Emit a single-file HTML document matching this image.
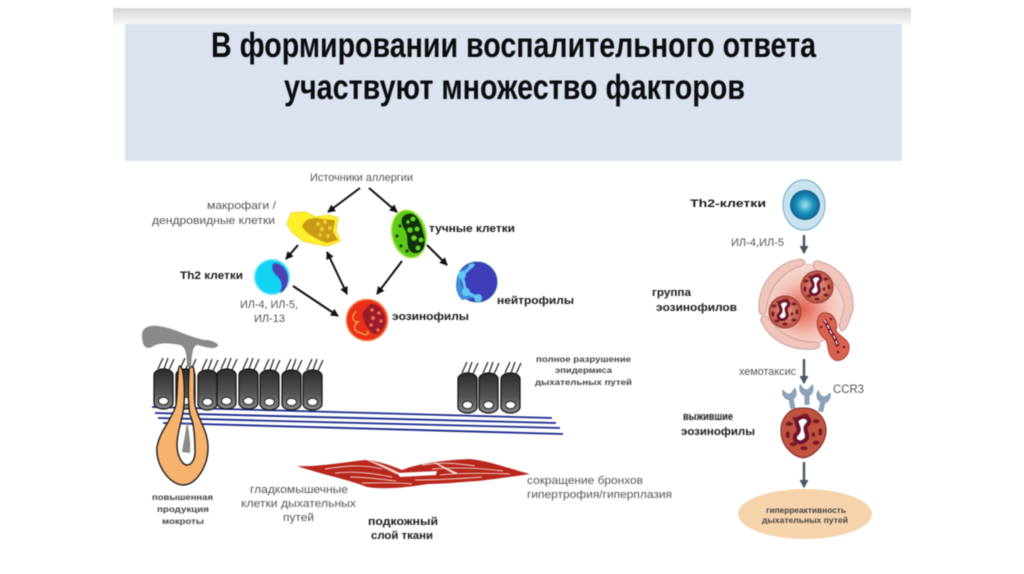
<!DOCTYPE html>
<html lang="ru"><head><meta charset="utf-8"><title>Воспаление</title>
<style>
html,body{margin:0;padding:0;background:#fff;width:1024px;height:574px;overflow:hidden}
svg{display:block;filter:blur(.6px)}
text{font-family:"Liberation Sans",sans-serif}
.g{fill:#555;font-size:11px}
.b{fill:#1c1c1c;font-size:11px;font-weight:bold}
.s{fill:#444;font-size:8.500px;font-weight:bold}
.t{fill:#0c0c0c;font-size:35px;font-weight:bold}
.a{stroke:#111;stroke-width:2;fill:none;marker-end:url(#ah)}
.ar{stroke:#4a5563;stroke-width:2.400;fill:none;marker-end:url(#ag)}
.bl{stroke:#1c2a8c;stroke-width:1.800}
.m{fill:none;stroke:#b3241b;stroke-width:1.700}
.w{fill:none;stroke:#f3d3c8;stroke-width:.9}
</style></head><body>
<svg width="1024" height="574" viewBox="0 0 1024 574" xmlns="http://www.w3.org/2000/svg">
<defs>
<linearGradient id="top" x1="0" y1="0" x2="0" y2="1"><stop offset="0" stop-color="#d6d6d6"/><stop offset="1" stop-color="#fafafa"/></linearGradient>
<linearGradient id="cell" x1="0" y1="0" x2="0" y2="1"><stop offset="0" stop-color="#2c2c2c"/><stop offset=".6" stop-color="#555"/><stop offset="1" stop-color="#8a8a8a"/></linearGradient>
<radialGradient id="th" cx=".5" cy=".5" r=".5"><stop offset="0" stop-color="#a9e3f0"/><stop offset=".55" stop-color="#1c94bd"/><stop offset="1" stop-color="#0d5f8f"/></radialGradient>
<radialGradient id="big" cx=".5" cy=".55" r=".55"><stop offset="0" stop-color="#e2604f"/><stop offset=".6" stop-color="#f4c3b7"/><stop offset="1" stop-color="#f6dcd6"/></radialGradient>
<radialGradient id="eo" cx=".5" cy=".5" r=".55"><stop offset="0" stop-color="#e9a58d"/><stop offset="1" stop-color="#b5493a"/></radialGradient>
<marker id="ah" markerWidth="9" markerHeight="9" refX="7" refY="4" orient="auto-start-reverse" markerUnits="userSpaceOnUse"><path d="M0 0L8 4L0 8z" fill="#111"/></marker>
<marker id="ag" markerWidth="10" markerHeight="10" refX="7" refY="4.500" orient="auto" markerUnits="userSpaceOnUse"><path d="M0 0L8 4.500L0 9z" fill="#4a5563"/></marker>
<g id="c">
<path d="M-9.500 -14a9.500 6 0 0 1 19 0v28a9.500 6 0 0 1 -19 0z" transform="translate(9.500 20)" fill="url(#cell)" stroke="#111" stroke-width="1.200"/>
<ellipse cx="9.500" cy="32" rx="5" ry="3.800" fill="#fff" stroke="#222"/>
<path d="M4 0L9 -11M10 0L14 -11M15 1L20 -10" stroke="#222" stroke-width="1.200" fill="none"/>
</g>
<g id="eon">
<path d="M-4 -10c-5 3 4 7 -2 12c-3 4 3 8 7 4c4 -4 -3 -8 2 -12c3 -4 -3 -7 -7 -4z" fill="#fff" stroke="#6d1230" stroke-width="3"/>
<g fill="#7a1a26"><ellipse cx="-11" cy="-6" rx="2.600" ry="1.500"/><ellipse cx="-12" cy="2" rx="1.500" ry="2.600"/><ellipse cx="-8" cy="9" rx="2.600" ry="1.500"/><ellipse cx="0" cy="12" rx="2.600" ry="1.500"/><ellipse cx="9" cy="8" rx="2.600" ry="1.500"/><ellipse cx="12" cy="0" rx="1.500" ry="2.600"/><ellipse cx="9" cy="-8" rx="2.600" ry="1.500"/><ellipse cx="1" cy="-12" rx="2.600" ry="1.500"/><ellipse cx="-7" cy="-10" rx="1.500" ry="1.200"/><ellipse cx="7" cy="2" rx="1.300" ry="1.800"/></g>
</g>
<path id="rc" d="M-3 15L-3 2C-9 0 -12 -6 -10 -13C-7 -11 -6 -6 -1 -6C3 -6 4 -10 8 -13C10 -6 8 0 3 2L3 15z" fill="#8ea3bb" stroke="#6a819c" stroke-width=".8"/>
</defs>

<rect width="1024" height="574" fill="#fff"/>
<rect x="113" y="8" width="798" height="17" fill="url(#top)"/>
<rect x="125" y="24" width="777" height="137" fill="#dbe3f1"/>
<text class="t" x="211" y="57" textLength="605" lengthAdjust="spacingAndGlyphs">В формировании воспалительного ответа</text>
<text class="t" x="284" y="99" textLength="461" lengthAdjust="spacingAndGlyphs">участвуют множество факторов</text>

<text class="g" x="310" y="181" textLength="103" lengthAdjust="spacingAndGlyphs">Источники аллергии</text>
<text class="g" x="207" y="209" textLength="69" lengthAdjust="spacingAndGlyphs">макрофаги /</text>
<text class="g" x="152" y="224" textLength="123" lengthAdjust="spacingAndGlyphs">дендровидные клетки</text>
<text class="b" x="429" y="232" textLength="86" lengthAdjust="spacingAndGlyphs">тучные клетки</text>
<text class="b" x="180" y="279" textLength="63" lengthAdjust="spacingAndGlyphs">Th2 клетки</text>
<text class="g" x="240" y="308" textLength="58" lengthAdjust="spacingAndGlyphs">ИЛ-4, ИЛ-5,</text>
<text class="g" x="254" y="322" textLength="31" lengthAdjust="spacingAndGlyphs">ИЛ-13</text>
<text class="b" x="392" y="320" textLength="77" lengthAdjust="spacingAndGlyphs">эозинофилы</text>
<text class="b" x="497" y="304" textLength="77" lengthAdjust="spacingAndGlyphs">нейтрофилы</text>

<path class="a" d="M360 188L328 212"/>
<path class="a" d="M369 188L397 212"/>
<path class="a" d="M298 245L286 259"/>
<path class="a" d="M327 252L347 294" marker-start="url(#ah)"/>
<path class="a" d="M402 261L377 294"/>
<path class="a" d="M427 245L447 265"/>
<path class="a" d="M293 286L338 316"/>

<!-- Macrophage -->
<path d="M291 213L305 212L316 217L329 215L338 218L336 231L340 241L328 246L316 244L303 241L292 232L287 224z" fill="#fff02a" stroke="#f5e04c" stroke-width="1.500"/>
<path d="M302 226C305 219 313 216 322 219L335 220L333 232L338 240L327 243C319 240 306 235 302 226z" fill="#c89b14"/>
<g fill="#eacb3c"><circle cx="318" cy="224" r="2"/><circle cx="325" cy="222" r="2"/><circle cx="322" cy="229" r="2.200"/><circle cx="330" cy="228" r="2"/><circle cx="328" cy="236" r="2"/><circle cx="320" cy="235" r="1.800"/></g>

<!-- Mast cell -->
<ellipse cx="409" cy="234" rx="17" ry="24" fill="#5ec918" stroke="#a8ea50" stroke-width="1.500" transform="rotate(-12 409 234)"/>
<path d="M405 215C415 210 420 220 423 232C427 245 424 254 414 253C404 250 410 238 405 230C401 224 400 218 405 215z" fill="#10300c"/>
<g fill="#63d220"><circle cx="413" cy="219" r="2.500"/><circle cx="410" cy="230" r="2.800"/><circle cx="417" cy="229" r="2.500"/><circle cx="414" cy="238" r="2.800"/><circle cx="421" cy="240" r="2.500"/><circle cx="418" cy="248" r="2.500"/><circle cx="408" cy="222" r="1.800"/></g>
<g fill="#123810"><circle cx="400" cy="226" r="1.500"/><circle cx="397" cy="236" r="1.500"/><circle cx="401" cy="246" r="1.500"/><circle cx="407" cy="251" r="1.500"/></g>

<!-- Th2 -->
<circle cx="272" cy="277" r="17.500" fill="#12d3f3" stroke="#8fe9fb" stroke-width="1.500"/>
<path d="M274 263C282 263 289 271 288 281C287 288 283 292 280 293C283 286 282 280 276 275C272 271 271 266 274 263z" fill="#4a45b5"/>

<!-- Neutrophil -->
<circle cx="477" cy="282" r="20" fill="#3f3db8" stroke="#2c5aa8"/>
<path d="M472 264C466 268 460 272 462 278C459 285 465 290 466 292C468 296 474 296 478 297L462 300C452 290 454 270 472 264z" fill="#3f8fd8"/>
<path d="M474 264L462 275M462 275L466 292L478 298" stroke="#62c8f6" stroke-width="3" fill="none"/>
<g fill="#62c8f6"><circle cx="462" cy="275" r="4"/><circle cx="466" cy="292" r="4"/><circle cx="478" cy="298" r="4"/><circle cx="471" cy="266" r="2.500"/></g>

<!-- Eosinophil -->
<circle cx="367" cy="320" r="20.500" fill="#e8301a" stroke="#f77b40" stroke-width="1.500"/>
<path d="M370 304C380 303 386 314 385 323C384 331 376 337 371 332C366 326 362 320 363 312z" fill="#9a1c2c"/>
<g fill="#e8734c"><circle cx="372" cy="310" r="1.800"/><circle cx="379" cy="313" r="1.800"/><circle cx="373" cy="318" r="2"/><circle cx="381" cy="321" r="1.800"/><circle cx="371" cy="325" r="1.800"/><circle cx="378" cy="330" r="1.800"/></g>
<path d="M356 311C350 318 354 322 358 322C352 326 354 332 361 333C365 336 371 334 367 331" stroke="#f3a040" stroke-width="1.500" fill="none"/>

<path class="bl" d="M152 407L552 418M155 413L556 423M158 418L560 428M163 423L563 434"/>

<use href="#c" x="154" y="369"/><use href="#c" x="176" y="369"/><use href="#c" x="198" y="370"/><use href="#c" x="217" y="369"/><use href="#c" x="239" y="369"/><use href="#c" x="260" y="370"/><use href="#c" x="282" y="370"/><use href="#c" x="303" y="370"/>
<use href="#c" x="458" y="373"/><use href="#c" x="479" y="373"/><use href="#c" x="501" y="373"/>

<!-- Gland -->
<path d="M180 366C177 366 178 392 176 405C172 420 160 430 157 447C155 465 170 485 183 485C197 485 208 465 208 448C208 430 198 420 195 405C193 392 196 372 193 367C190 366 189 368 189 372C188 392 188 405 190 415C195 425 195 445 195 452C195 460 191 465 187 465C182 465 177 455 177 445C177 430 183 420 184 405C185 390 184 368 180 366z" fill="#f7b36e" stroke="#1c1c1c" stroke-width="1.400"/>
<path d="M142 335C142 327 150 325 158 326C175 328 185 336 205 340C213 340 219 344 218 346C214 350 205 347 198 345C193 345 192 352 191 367L187 367C187 355 186 347 180 345C170 343 158 342 152 347C145 350 142 345 142 335z" fill="#8a8a8a"/>
<path d="M187 420C186 432 183 445 182 452L190 453C191 445 189 432 187 420z" fill="#8a8a8a"/>

<!-- Muscle -->
<path d="M297 466C320 467 345 462 365 460C378 461 390 465 402 470C420 463 445 460 470 459C490 461 510 469 530 474C510 477 495 479 478 481C460 482 445 484 428 484C410 487 385 490 367 487C350 480 320 474 297 466z" fill="#b8261c"/>
<path class="w" d="M325 469C345 466 362 464 382 469M335 473C355 471 372 473 392 477M350 477C365 477 380 479 396 481M362 483C380 483 395 482 412 484M422 465C440 462 455 463 475 466M432 469C455 467 480 468 503 471M440 475C460 473 485 473 510 474M415 480C435 480 455 479 482 477"/>
<path d="M366 460C378 462 392 469 400 473L396 474C385 468 375 464 366 460z" fill="#f3dcd2"/>
<path d="M397 473L437 471L436 475L400 477z" fill="#fff"/>
<path d="M430 460C440 464 450 470 458 473L454 474C445 469 437 465 430 460z" fill="#f3dcd2"/>

<text class="s" x="536" y="362" textLength="95" lengthAdjust="spacingAndGlyphs">полное разрушение</text>
<text class="s" x="555" y="373" textLength="57" lengthAdjust="spacingAndGlyphs">эпидермиса</text>
<text class="s" x="535" y="385" textLength="97" lengthAdjust="spacingAndGlyphs">дыхательных путей</text>
<text class="s" x="152" y="500" textLength="61" lengthAdjust="spacingAndGlyphs">повышенная</text>
<text class="s" x="157" y="512" textLength="52" lengthAdjust="spacingAndGlyphs">продукция</text>
<text class="s" x="162" y="524" textLength="42" lengthAdjust="spacingAndGlyphs">мокроты</text>
<text class="g" x="250" y="493" textLength="98" lengthAdjust="spacingAndGlyphs">гладкомышечные</text>
<text class="g" x="241" y="507" textLength="115" lengthAdjust="spacingAndGlyphs">клетки дыхательных</text>
<text class="g" x="283" y="521" textLength="31" lengthAdjust="spacingAndGlyphs">путей</text>
<text class="b" x="368" y="525" textLength="70" lengthAdjust="spacingAndGlyphs">подкожный</text>
<text class="b" x="371" y="539" textLength="62" lengthAdjust="spacingAndGlyphs">слой ткани</text>
<text class="g" x="527" y="484" textLength="116" lengthAdjust="spacingAndGlyphs">сокращение бронхов</text>
<text class="g" x="527" y="498" textLength="145" lengthAdjust="spacingAndGlyphs">гипертрофия/гиперплазия</text>

<!-- Right panel -->
<text class="b" x="690" y="207" textLength="76" lengthAdjust="spacingAndGlyphs">Th2-клетки</text>
<ellipse cx="804" cy="205" rx="21" ry="25" fill="#c8e2ee" stroke="#7fb4cf" stroke-width="1.200"/>
<circle cx="805" cy="205" r="15" fill="url(#th)"/>
<text class="g" x="731" y="246" textLength="53" lengthAdjust="spacingAndGlyphs">ИЛ-4,ИЛ-5</text>
<path class="ar" d="M804 235L804 253"/>

<circle cx="803" cy="305" r="41" fill="url(#big)" stroke="#e4b6ae"/>
<path d="M759 311C757 285 775 263 800 259C806 260 806 264 801 266C782 272 768 288 766 311C764 316 760 316 759 311z" fill="#f1c5bb" stroke="#c9a3a3"/>
<path d="M818 261C840 266 855 285 853 310C850 318 847 330 842 331C836 328 842 320 844 308C844 292 830 276 816 270C811 266 813 260 818 261z" fill="#f1c5bb" stroke="#c9a3a3"/>
<path d="M761 321C770 341 790 351 815 349C822 347 821 343 815 342C795 343 779 333 769 319C764 314 760 316 761 321z" fill="#f1c5bb" stroke="#c9a3a3"/>
<circle cx="817" cy="287" r="16" fill="url(#eo)" stroke="#8e3a30"/><use href="#eon" x="817" y="287"/>
<circle cx="785" cy="312" r="16" fill="url(#eo)" stroke="#8e3a30"/><use href="#eon" x="785" y="312"/>
<path d="M822 313C832 311 838 320 836 330C838 336 846 337 849 345C850 356 842 362 835 360C827 356 829 346 826 340C818 334 813 320 822 313z" fill="#d8624e" stroke="#a9443a"/>
<path d="M824 320C828 324 829 330 832 334C836 338 836 343 838 346" stroke="#6d1530" stroke-width="3.500" fill="none"/>
<path d="M824 320C828 324 829 330 832 334C836 338 836 343 838 346" stroke="#fff" stroke-width="1.200" fill="none" stroke-dasharray="4 2"/>
<g fill="#7a1a26"><circle cx="838" cy="352" r="1.300"/><circle cx="844" cy="347" r="1.300"/><circle cx="821" cy="327" r="1.300"/><circle cx="831" cy="319" r="1.300"/></g>

<text class="b" x="652" y="296" textLength="39" lengthAdjust="spacingAndGlyphs">группа</text>
<text class="b" x="656" y="311" textLength="81" lengthAdjust="spacingAndGlyphs">эозинофилов</text>

<text class="g" x="739" y="375" textLength="57" lengthAdjust="spacingAndGlyphs">хемотаксис</text>
<path class="ar" d="M804 359L804 383"/>
<text class="g" x="833" y="393" textLength="31" lengthAdjust="spacingAndGlyphs" style="font-size:11.500px">CCR3</text>

<path d="M803 408C818 407 827 420 826 433C824 447 812 457 803 458C794 457 782 447 781 433C780 420 788 407 803 408z" fill="#c0543f" stroke="#7a2a2a"/>
<use href="#rc" transform="translate(791 398) rotate(-10) scale(.7)"/>
<use href="#rc" transform="translate(807 394) scale(.7)"/>
<use href="#rc" transform="translate(823 401) rotate(12) scale(.7)"/>
<use href="#eon" transform="translate(804 432) scale(1.350)"/>

<text class="b" x="683" y="420" textLength="50" lengthAdjust="spacingAndGlyphs">выжившие</text>
<text class="b" x="681" y="435" textLength="74" lengthAdjust="spacingAndGlyphs">эозинофилы</text>

<path class="ar" d="M804 462L804 487"/>
<ellipse cx="805" cy="514" rx="67" ry="25" fill="#f7d3ab"/>
<text x="766" y="513" textLength="80" lengthAdjust="spacingAndGlyphs" style="font-size:8.500px;fill:#444;font-weight:bold">гиперреактивность</text>
<text x="762" y="523" textLength="86" lengthAdjust="spacingAndGlyphs" style="font-size:8.500px;fill:#444;font-weight:bold">дыхательных путей</text>
</svg>
</body></html>
